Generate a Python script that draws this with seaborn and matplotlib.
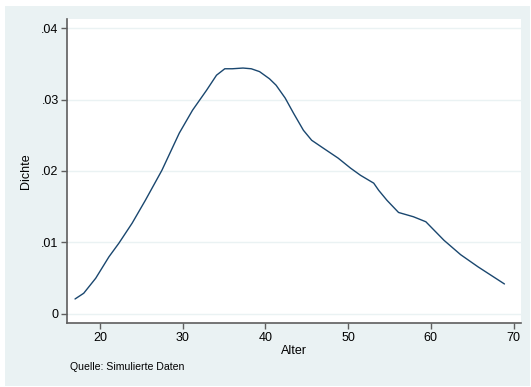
import matplotlib
matplotlib.use("Agg")
import matplotlib.pyplot as plt
from matplotlib.patches import Rectangle
import seaborn as sns
import pandas as pd

# Data (kernel density of age)
alter = [17.0, 18.05, 19.5, 21.1, 22.3, 23.9, 25.5, 27.5, 29.6, 31.2, 32.9, 34.1,
         35.1, 36.0, 37.3, 38.3, 39.3, 40.5, 41.3, 42.4, 43.4, 44.6, 45.6, 47.0,
         48.8, 50.3, 51.5, 53.1, 53.7, 54.7, 56.1, 57.9, 59.4, 61.6, 63.6, 65.7,
         67.7, 68.9]
dichte = [0.0021, 0.0029, 0.0050, 0.0080, 0.0099, 0.0127, 0.0159, 0.0201, 0.0253,
          0.0285, 0.0313, 0.0334, 0.0343, 0.0343, 0.0344, 0.0343, 0.0339, 0.0329,
          0.0320, 0.0302, 0.0281, 0.0257, 0.0243, 0.0232, 0.0218, 0.0204, 0.0194,
          0.0183, 0.0173, 0.0159, 0.0142, 0.0136, 0.0129, 0.0103, 0.0083, 0.0066,
          0.0051, 0.0042]
x_ticks = [20, 30, 40, 50, 60, 70]
y_ticks = [0, 0.01, 0.02, 0.03, 0.04]
y_ticklabels = ["0", ".01", ".02", ".03", ".04"]

sns.set_theme(style="white")
plt.rcParams["font.family"] = ["Liberation Sans", "DejaVu Sans"]

W, H = 531, 387
fig = plt.figure(figsize=(W / 100, H / 100), dpi=100)
fig.patch.set_facecolor("white")
bg = "#EAF2F3"
fig.patches.append(Rectangle((5 / W, 1 - 386 / H), (530 - 5) / W, (386 - 6) / H,
                             transform=fig.transFigure, facecolor=bg,
                             edgecolor="none", zorder=-10))

ax = fig.add_axes([67 / W, 1 - 323 / H, (521 - 67) / W, (323 - 19) / H])
ax.set_zorder(1)
ax.set_facecolor("white")

df = pd.DataFrame({"Alter": alter, "Dichte": dichte})
sns.lineplot(data=df, x="Alter", y="Dichte", ax=ax, color="#1A476F",
             linewidth=1.0, estimator=None, sort=False)

ax.set_xlim(16.03, 70.9)
ax.set_ylim(-0.00126, 0.04126)
ax.set_xticks(x_ticks)
ax.set_xticklabels([str(t) for t in x_ticks])
ax.set_yticks(y_ticks)
ax.set_yticklabels(y_ticklabels)

ax.yaxis.grid(True, color=bg, linewidth=1.0)
ax.xaxis.grid(False)
ax.set_axisbelow(True)

axc = "#5E5E5E"
for s in ["top", "right"]:
    ax.spines[s].set_visible(False)
for s in ["left", "bottom"]:
    ax.spines[s].set_color(axc)
    ax.spines[s].set_linewidth(1.2)

ax.tick_params(axis="both", which="major", direction="out", length=4.5, width=1.0,
               color=axc, labelcolor="black", labelsize=9,
               left=True, bottom=True)
ax.tick_params(axis="y", pad=1.5)
ax.tick_params(axis="x", pad=2)

ax.set_xlabel("Alter", fontsize=9, color="black", labelpad=1)
ax.set_ylabel("Dichte", fontsize=9, color="black", labelpad=7)

fig.text(70 / W, 1 - 367 / H, "Quelle: Simulierte Daten", fontsize=7.6,
         ha="left", va="center", color="black")

fig.savefig("out.png", dpi=100)
